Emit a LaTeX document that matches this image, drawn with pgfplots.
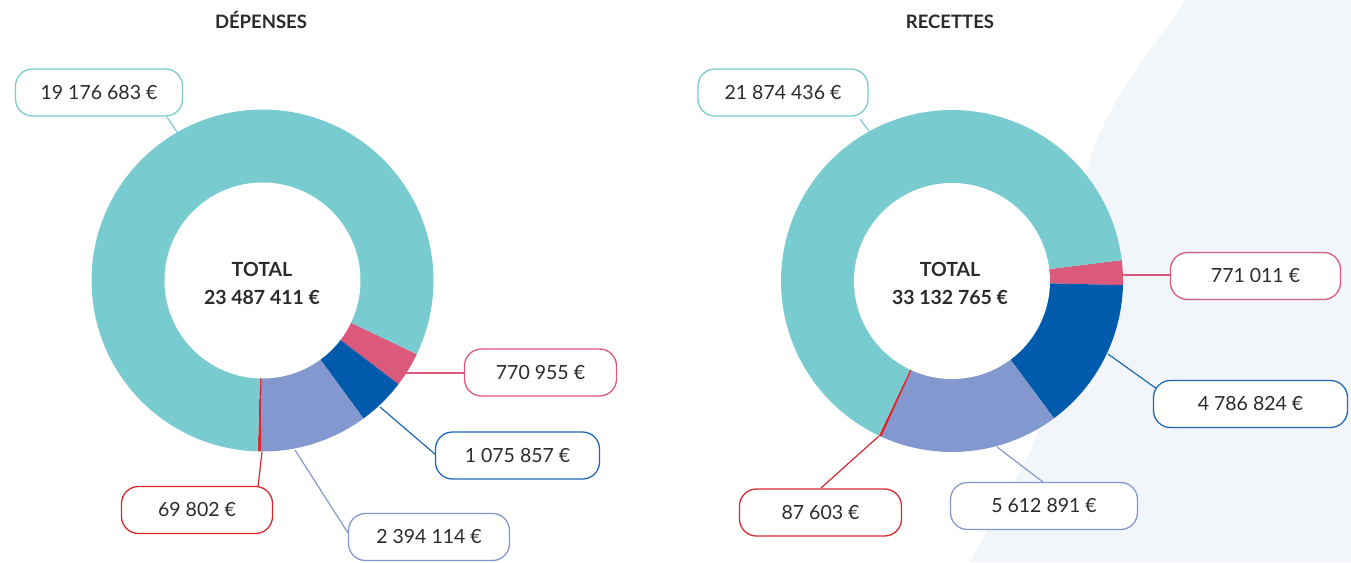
\documentclass[border=0pt]{standalone}
\usepackage{pgfplots}
\pgfplotsset{compat=1.18}
\usepackage{fontspec}
\setmainfont{Lato}
\definecolor{cteal}{HTML}{78CCCF}
\definecolor{cpink}{HTML}{DB5A7C}
\definecolor{cblue}{HTML}{005BAC}
\definecolor{cblueline}{HTML}{1F68B5}
\definecolor{clav}{HTML}{8398CE}
\definecolor{cred}{HTML}{D7282F}
\definecolor{cbg}{HTML}{F2F5FA}
\definecolor{ctext}{HTML}{2B2B2B}

% ---- data (millions of euros) ----
% DEPENSES
\def\Lteal{19.176683}\def\Lpink{0.770955}\def\Lblue{1.075857}\def\Llav{2.394114}\def\Lred{0.069802}
% RECETTES
\def\Rteal{21.874436}\def\Rpink{0.771011}\def\Rblue{4.786824}\def\Rlav{5.612891}\def\Rred{0.087603}

\pgfmathsetmacro\Ltot{\Lteal+\Lpink+\Lblue+\Llav+\Lred}
\pgfmathsetmacro\LaA{-25.5}
\pgfmathsetmacro\LaB{\LaA-360*\Lpink/\Ltot}
\pgfmathsetmacro\LaC{\LaB-360*\Lblue/\Ltot}
\pgfmathsetmacro\LaD{\LaC-360*\Llav/\Ltot}
\pgfmathsetmacro\LaE{\LaD-360*\Lred/\Ltot}
\pgfmathsetmacro\LaF{\LaE-360*\Lteal/\Ltot}

\pgfmathsetmacro\Rtot{\Rteal+\Rpink+\Rblue+\Rlav+\Rred}
\pgfmathsetmacro\RaA{7.0}
\pgfmathsetmacro\RaB{\RaA-360*\Rpink/\Rtot}
\pgfmathsetmacro\RaC{\RaB-360*\Rblue/\Rtot}
\pgfmathsetmacro\RaD{\RaC-360*\Rlav/\Rtot}
\pgfmathsetmacro\RaE{\RaD-360*\Rred/\Rtot}
\pgfmathsetmacro\RaF{\RaE-360*\Rteal/\Rtot}

% slice: cx, cy, R, start(larger), end(smaller), colour
\newcommand\pieslice[6]{%
  \addplot[fill=#6, draw=none, domain=#5:#4, samples=150, variable=\t]
    ({#1+#3*cos(\t)},{#2-#3*sin(\t)}) -- (axis cs:#1,#2) -- cycle;}

\tikzset{box/.style={draw=#1, fill=white, line width=1.3pt, rounded corners=17pt,
  minimum height=47pt, inner sep=0pt, text=ctext, font=\fontsize{19.5}{22}\selectfont},
  lead/.style={draw=#1, line width=1.2pt}}

\begin{document}
\begin{tikzpicture}
\begin{axis}[width=1351pt, height=562pt, scale only axis,
  xmin=0, xmax=1351, ymin=0, ymax=562, y dir=reverse, hide axis]
\coordinate (BL) at (axis cs:0,562);
\coordinate (TR) at (axis cs:1351,0);
% background shape
\addplot[fill=cbg, draw=none, smooth] coordinates
  {(1186,0) (1117,100) (1087,170) (1060,300) (1037,432) (1010,488) (970,562)}
  -- (axis cs:1351,562) -- (axis cs:1351,0) -- cycle;

% DEPENSES donut
\pieslice{262.5}{280.5}{171}{\LaA}{\LaB}{cpink}
\pieslice{262.5}{280.5}{171}{\LaB}{\LaC}{cblue}
\pieslice{262.5}{280.5}{171}{\LaC}{\LaD}{clav}
\pieslice{262.5}{280.5}{171}{\LaD}{\LaE}{cred}
\pieslice{262.5}{280.5}{171}{\LaE}{\LaF}{cteal}
\addplot[fill=white, draw=none, domain=0:360, samples=150, variable=\t]
  ({262.5+98*cos(\t)},{280.5-98*sin(\t)}) -- cycle;

% RECETTES donut
\pieslice{952}{281}{171}{\RaA}{\RaB}{cpink}
\pieslice{952}{281}{171}{\RaB}{\RaC}{cblue}
\pieslice{952}{281}{171}{\RaC}{\RaD}{clav}
\pieslice{952}{281}{171}{\RaD}{\RaE}{cred}
\pieslice{952}{281}{171}{\RaE}{\RaF}{cteal}
\addplot[fill=white, draw=none, domain=0:360, samples=150, variable=\t]
  ({952+98*cos(\t)},{281-98*sin(\t)}) -- cycle;

% leader lines left
\draw[lead=cteal] (axis cs:177,132) -- (axis cs:167,117);
\draw[lead=cpink] (axis cs:406,373) -- (axis cs:464,373);
\draw[lead=cblueline] (axis cs:380,407) -- (axis cs:436,455);
\draw[lead=clav] (axis cs:295,450) -- (axis cs:348,533);
\draw[lead=cred] (axis cs:262,452) -- (axis cs:258,487);
% leader lines right
\draw[lead=cteal] (axis cs:869,131) -- (axis cs:860,119);
\draw[lead=cpink] (axis cs:1122,275) -- (axis cs:1170,275);
\draw[lead=cblueline] (axis cs:1108,354) -- (axis cs:1157,389);
\draw[lead=clav] (axis cs:997,447) -- (axis cs:1043,482);
\draw[lead=cred] (axis cs:879,436) -- (axis cs:821,488);

% titles
\node[anchor=base, text=ctext, font=\bfseries\fontsize{18.5}{20}\selectfont] at (axis cs:261,28) {DÉPENSES};
\node[anchor=base, text=ctext, font=\bfseries\fontsize{18.5}{20}\selectfont] at (axis cs:950,28) {RECETTES};

% totals
\node[anchor=base, text=ctext, font=\bfseries\fontsize{19.5}{22}\selectfont] at (axis cs:262,276) {TOTAL};
\node[anchor=base, text=ctext, font=\bfseries\fontsize{19.5}{22}\selectfont] at (axis cs:262,304) {23 487 411 €};
\node[anchor=base, text=ctext, font=\bfseries\fontsize{19.5}{22}\selectfont] at (axis cs:950,276) {TOTAL};
\node[anchor=base, text=ctext, font=\bfseries\fontsize{19.5}{22}\selectfont] at (axis cs:950,304) {33 132 765 €};

% boxes left
\node[box=cteal, minimum width=167pt] at (axis cs:99,92.5) {19 176 683 €};
\node[box=cpink, minimum width=152pt] at (axis cs:540.5,372.5) {770 955 €};
\node[box=cblueline, minimum width=164pt] at (axis cs:517.5,455.5) {1 075 857 €};
\node[box=clav, minimum width=161pt] at (axis cs:429,537) {2 394 114 €};
\node[box=cred, minimum width=151pt] at (axis cs:197,510) {69 802 €};
% boxes right
\node[box=cteal, minimum width=170pt] at (axis cs:783,92.5) {21 874 436 €};
\node[box=cpink, minimum width=170pt] at (axis cs:1255.5,276) {771 011 €};
\node[box=cblueline, minimum width=194pt] at (axis cs:1250.5,404) {4 786 824 €};
\node[box=clav, minimum width=187pt] at (axis cs:1044,506) {5 612 891 €};
\node[box=cred, minimum width=162pt] at (axis cs:820.5,512.5) {87 603 €};
\end{axis}
\pgfresetboundingbox
\path[use as bounding box] (BL) rectangle (TR);
\end{tikzpicture}
\end{document}
